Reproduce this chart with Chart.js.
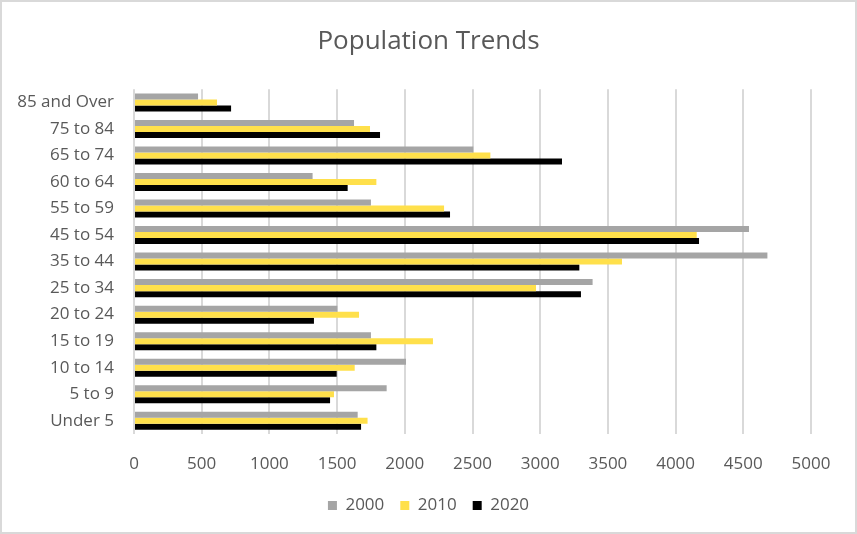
<!DOCTYPE html>
<html>
<head>
<meta charset="utf-8">
<script src="https://cdn.jsdelivr.net/npm/chart.js@4"></script>
<style>
  body { margin: 0; background: #fff; }
  #wrap { width: 857px; height: 534px; position: relative; }
</style>
</head>
<body>
<div id="wrap"><canvas id="myChart" width="857" height="534"></canvas></div>
<script>
// age groups, top to bottom as in the picture
var ageGroups = ['85 and Over', '75 to 84', '65 to 74', '60 to 64', '55 to 59', '45 to 54',
  '35 to 44', '25 to 34', '20 to 24', '15 to 19', '10 to 14', '5 to 9', 'Under 5'];

var pop2000 = [473, 1625, 2506, 1319, 1750, 4542, 4678, 3387, 1502, 1750, 2009, 1866, 1652];
var pop2010 = [613, 1743, 2632, 1790, 2290, 4156, 3604, 2969, 1662, 2208, 1630, 1477, 1725];
var pop2020 = [717, 1817, 3161, 1578, 2334, 4173, 3289, 3301, 1329, 1790, 1497, 1448, 1677];

var xTicks = [0, 500, 1000, 1500, 2000, 2500, 3000, 3500, 4000, 4500, 5000];

var textColor = '#595959';
var fontFam = '"Open Sans", "Liberation Sans", sans-serif';

// light frame round the whole chart, and let the y labels use the left margin
var framePlugin = {
  id: 'frame',
  afterLayout: function (chart) {
    var y = chart.scales.y;
    y.left = 0;
    y.width = y.right;
  },
  beforeDraw: function (chart) {
    var c = chart.ctx;
    c.save();
    c.fillStyle = '#fff';
    c.fillRect(0, 0, chart.width, chart.height);
    c.strokeStyle = '#d9d9d9';
    c.lineWidth = 2;
    c.strokeRect(1, 1, chart.width - 2, chart.height - 2);
    c.restore();
  }
};

function BuildChart() {
  var ctx = document.getElementById('myChart').getContext('2d');
  return new Chart(ctx, {
    type: 'bar',
    data: {
      labels: ageGroups,
      datasets: [
        { label: '2000', data: pop2000, backgroundColor: '#a5a5a5' },
        { label: '2010', data: pop2010, backgroundColor: '#ffe04b' },
        { label: '2020', data: pop2020, backgroundColor: '#000000' }
      ]
    },
    options: {
      indexAxis: 'y',
      responsive: false,
      animation: false,
      maintainAspectRatio: false,
      categoryPercentage: 0.68,
      barPercentage: 1,
      // symmetric side padding keeps title and legend centred on the canvas
      layout: { padding: { left: 46, right: 46, top: 0, bottom: 10 } },
      scales: {
        x: {
          min: 0,
          max: 5000,
          afterBuildTicks: function (scale) {
            scale.ticks = xTicks.map(function (v) { return { value: v }; });
          },
          afterFit: function (scale) { scale.height = 47; },
          grid: { color: '#d9d9d9', lineWidth: 2, drawTicks: false },
          border: { display: false },
          ticks: {
            color: textColor,
            font: { family: fontFam, size: 17 },
            padding: 20,
            callback: function (v) { return String(v); }
          }
        },
        y: {
          afterFit: function (scale) { scale.width = 88; },
          grid: { display: false, drawTicks: false },
          border: { display: false },
          ticks: { color: textColor, font: { family: fontFam, size: 17 }, padding: 20 }
        }
      },
      plugins: {
        title: {
          display: true,
          text: 'Population Trends',
          color: textColor,
          font: { family: fontFam, size: 26, weight: 'normal' },
          padding: { top: 26, bottom: 32 }
        },
        legend: {
          position: 'bottom',
          labels: {
            color: textColor,
            font: { family: fontFam, size: 17 },
            boxWidth: 9,
            boxHeight: 9,
            padding: 16
          }
        },
        tooltip: { enabled: false }
      }
    },
    plugins: [framePlugin]
  });
}

window.onload = function () {
  var chart = BuildChart();
};
</script>
</body>
</html>
